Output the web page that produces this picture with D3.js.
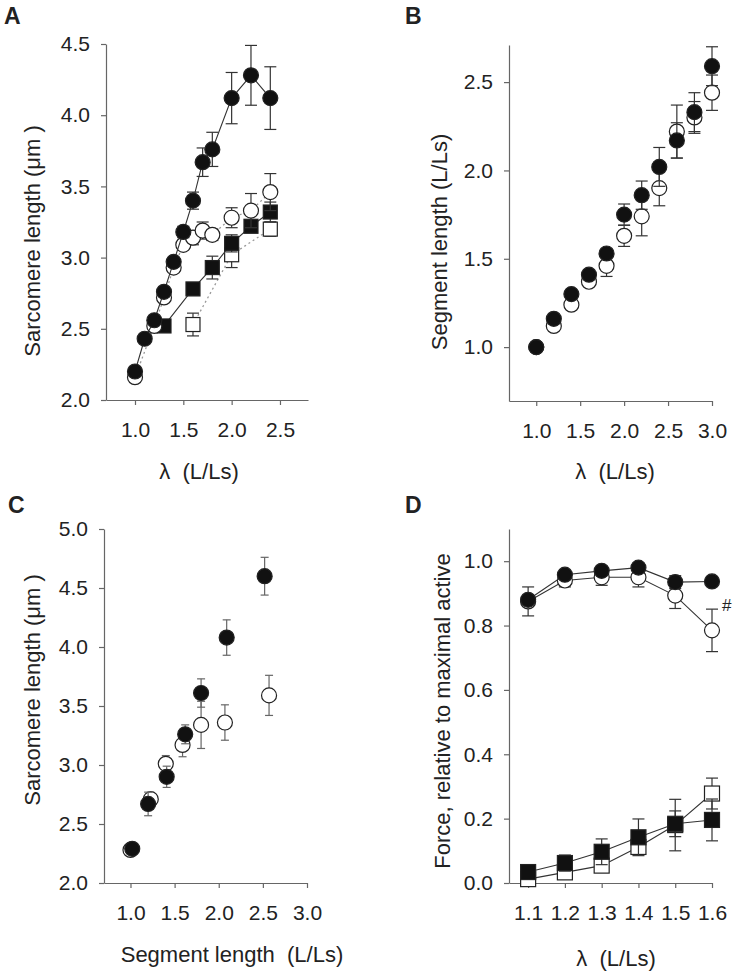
<!DOCTYPE html>
<html>
<head>
<meta charset="utf-8">
<script src="https://cdn.jsdelivr.net/npm/d3@7"></script>
<style>
  body { margin: 0; background: #fff; }
  text { font-family: "Liberation Sans", Arial, sans-serif; fill: #222; }
</style>
</head>
<body>
<div id="chart"></div>
<script>
// ---- Panel A: sarcomere length vs stretch ratio
var aFilledCircX = [1.0, 1.1, 1.2, 1.3, 1.4, 1.5, 1.6, 1.7, 1.8, 2.0, 2.2, 2.4];
var aFilledCircY = [2.20, 2.43, 2.56, 2.76, 2.97, 3.18, 3.40, 3.67, 3.76, 4.12, 4.28, 4.12];
var aFilledCircErr = [0.02, 0.02, 0.02, 0.03, 0.03, 0.04, 0.06, 0.10, 0.12, 0.18, 0.21, 0.22];
var aOpenCircX = [1.0, 1.2, 1.3, 1.4, 1.5, 1.6, 1.7, 1.8, 2.0, 2.2, 2.4];
var aOpenCircY = [2.16, 2.52, 2.72, 2.93, 3.09, 3.14, 3.19, 3.16, 3.28, 3.33, 3.46];
var aOpenCircErr = [0.02, 0.02, 0.03, 0.03, 0.03, 0.05, 0.06, 0.04, 0.07, 0.12, 0.13];
var aFilledSqX = [1.3, 1.6, 1.8, 2.0, 2.2, 2.4];
var aFilledSqY = [2.52, 2.78, 2.93, 3.10, 3.22, 3.32];
var aFilledSqErr = [0.02, 0.03, 0.08, 0.06, 0.03, 0.07];
var aOpenSqX = [1.6, 2.0, 2.4];
var aOpenSqY = [2.53, 3.02, 3.20];
var aOpenSqErr = [0.08, 0.09, 0.05];

// ---- Panel B: segment length vs stretch ratio
var bX = [1.0, 1.2, 1.4, 1.6, 1.8, 2.0, 2.2, 2.4, 2.6, 2.8, 3.0];
var bFilledY = [1.00, 1.16, 1.30, 1.41, 1.53, 1.75, 1.86, 2.02, 2.17, 2.33, 2.59];
var bFilledErr = [0, 0.01, 0.01, 0.02, 0.02, 0.06, 0.08, 0.11, 0.10, 0.11, 0.11];
var bOpenY = [1.00, 1.12, 1.24, 1.37, 1.46, 1.63, 1.74, 1.90, 2.22, 2.30, 2.44];
var bOpenErr = [0, 0.01, 0.02, 0.02, 0.06, 0.06, 0.11, 0.10, 0.15, 0.09, 0.10];

// ---- Panel C: sarcomere length vs segment length
var cFilledX = [1.02, 1.2, 1.41, 1.62, 1.8, 2.09, 2.52];
var cFilledY = [2.29, 2.67, 2.90, 3.26, 3.61, 4.08, 4.60];
var cFilledErr = [0.02, 0.10, 0.09, 0.08, 0.12, 0.15, 0.16];
var cOpenX = [1.0, 1.23, 1.40, 1.59, 1.80, 2.07, 2.57];
var cOpenY = [2.28, 2.71, 3.01, 3.17, 3.34, 3.36, 3.59];
var cOpenErr = [0.02, 0.05, 0.07, 0.10, 0.20, 0.15, 0.17];

// ---- Panel D: relative force vs stretch ratio
var dX = [1.1, 1.2, 1.3, 1.4, 1.5, 1.6];
var dFilledCircY = [0.88, 0.958, 0.97, 0.98, 0.935, 0.937];
var dFilledCircErr = [0.01, 0.01, 0.01, 0.01, 0.02, 0.01];
var dOpenCircY = [0.875, 0.94, 0.95, 0.95, 0.893, 0.785];
var dOpenCircErr = [0.045, 0.02, 0.025, 0.03, 0.04, 0.066];
var dFilledSqY = [0.034, 0.062, 0.097, 0.142, 0.184, 0.196];
var dFilledSqErr = [0.01, 0.025, 0.04, 0.057, 0.04, 0.065];
var dOpenSqY = [0.012, 0.033, 0.054, 0.112, 0.18, 0.278];
var dOpenSqErr = [0.005, 0.01, 0.02, 0.015, 0.08, 0.048];

var svg = d3.select("#chart")
    .append("svg")
        .attr("width", 739)
        .attr("height", 973);

var fmt = d3.format(".1f");

// Build one panel: axes, titles, letter
function makePanel(p) {
    var x = d3.scaleLinear().domain(p.xDomain).range([p.left, p.right]);
    var y = d3.scaleLinear().domain(p.yDomain).range([p.bottom, p.top]);
    var g = svg.append("g");

    var xAxis = g.append("g")
        .attr("transform", "translate(0," + p.bottom + ")")
        .call(d3.axisBottom(x).tickValues(p.xTicks).tickFormat(fmt)
            .tickSize(5).tickSizeOuter(0).tickPadding(17));
    var yAxis = g.append("g")
        .attr("transform", "translate(" + p.left + ",0)")
        .call(d3.axisLeft(y).tickValues(p.yTicks).tickFormat(fmt)
            .tickSize(5).tickSizeOuter(0).tickPadding(11));
    [xAxis, yAxis].forEach(function(a) {
        a.select(".domain").attr("stroke", "#666").attr("stroke-width", 1.2);
        a.selectAll(".tick line").attr("stroke", "#666").attr("stroke-width", 1.2);
        a.selectAll(".tick text").attr("font-size", "21px").attr("fill", "#222")
            .attr("font-family", "Liberation Sans, Arial, sans-serif");
    });

    g.append("text")
        .attr("x", p.xTitlePos[0])
        .attr("y", p.xTitlePos[1])
        .attr("text-anchor", "middle")
        .attr("font-size", "22px")
        .style("white-space", "pre")
        .text(p.xTitle);

    g.append("text")
        .attr("transform", "translate(" + p.yTitlePos[0] + "," + p.yTitlePos[1] + ") rotate(-90)")
        .attr("text-anchor", "middle")
        .attr("font-size", "22px")
        .style("white-space", "pre")
        .text(p.yTitle);

    g.append("text")
        .attr("x", p.letterPos[0])
        .attr("y", p.letterPos[1])
        .attr("font-size", "23px")
        .attr("font-weight", "bold")
        .attr("fill", "#111")
        .text(p.letter);

    return {g: g, x: x, y: y};
}

// Draw one series: connecting line, error bars, markers
function drawSeries(panel, xs, ys, errs, o) {
    var pts = xs.map(function(d, i) { return {x: d, y: ys[i], e: errs[i]}; });
    var g = panel.g.append("g");
    var x = panel.x, y = panel.y;

    if (o.line) {
        var line = d3.line().x(function(d) { return x(d.x); }).y(function(d) { return y(d.y); });
        g.append("path")
            .datum(pts)
            .attr("d", line)
            .attr("fill", "none")
            .attr("stroke", o.line == "dotted" ? "#999" : "#333")
            .attr("stroke-width", o.line == "dotted" ? 1.3 : 1.1)
            .attr("stroke-dasharray", o.line == "dotted" ? "2,3" : null);
    }

    var bars = g.selectAll(".err")
        .data(pts.filter(function(d) { return d.e > 0; }))
        .enter()
        .append("g")
        .attr("stroke", o.barColor || "#333")
        .attr("stroke-width", 1.2);
    bars.append("line")
        .attr("x1", function(d) { return x(d.x); })
        .attr("x2", function(d) { return x(d.x); })
        .attr("y1", function(d) { return y(d.y - d.e); })
        .attr("y2", function(d) { return y(d.y + d.e); });
    [-1, 1].forEach(function(s) {
        bars.append("line")
            .attr("x1", function(d) { return x(d.x) - o.cap; })
            .attr("x2", function(d) { return x(d.x) + o.cap; })
            .attr("y1", function(d) { return y(d.y + s * d.e); })
            .attr("y2", function(d) { return y(d.y + s * d.e); });
    });

    var fill = o.filled ? "#111" : "#fff";
    if (o.shape == "circle") {
        g.selectAll("circle")
            .data(pts)
            .enter()
            .append("circle")
                .attr("cx", function(d) { return x(d.x); })
                .attr("cy", function(d) { return y(d.y); })
                .attr("r", o.size)
                .attr("fill", fill)
                .attr("stroke", "#222")
                .attr("stroke-width", 1.2);
    } else {
        g.selectAll("rect")
            .data(pts)
            .enter()
            .append("rect")
                .attr("x", function(d) { return x(d.x) - o.size; })
                .attr("y", function(d) { return y(d.y) - o.size; })
                .attr("width", o.size * 2)
                .attr("height", o.size * 2)
                .attr("fill", fill)
                .attr("stroke", "#222")
                .attr("stroke-width", 1.2);
    }
}

// Panel A
var pA = makePanel({
    left: 106, right: 308, top: 44, bottom: 400,
    xDomain: [0.7, 2.79], yDomain: [2.0, 4.5],
    xTicks: [1.0, 1.5, 2.0, 2.5], yTicks: [2.0, 2.5, 3.0, 3.5, 4.0, 4.5],
    xTitle: "λ  (L/Ls)", xTitlePos: [199, 479],
    yTitle: "Sarcomere length (μm )", yTitlePos: [40, 241],
    letter: "A", letterPos: [4, 24]
});
drawSeries(pA, aOpenSqX, aOpenSqY, aOpenSqErr, {shape: "square", filled: false, line: "dotted", size: 7, cap: 6});
drawSeries(pA, aFilledSqX, aFilledSqY, aFilledSqErr, {shape: "square", filled: true, line: "solid", size: 7, cap: 6});
drawSeries(pA, aOpenCircX, aOpenCircY, aOpenCircErr, {shape: "circle", filled: false, line: "dotted", size: 7.5, cap: 6});
drawSeries(pA, aFilledCircX, aFilledCircY, aFilledCircErr, {shape: "circle", filled: true, line: "solid", size: 7.5, cap: 6});

// Panel B
var pB = makePanel({
    left: 509, right: 712, top: 45, bottom: 401,
    xDomain: [0.69, 3.0], yDomain: [0.695, 2.71],
    xTicks: [1.0, 1.5, 2.0, 2.5, 3.0], yTicks: [1.0, 1.5, 2.0, 2.5],
    xTitle: "λ  (L/Ls)", xTitlePos: [615, 479],
    yTitle: "Segment length (L/Ls)", yTitlePos: [447, 242],
    letter: "B", letterPos: [405, 24]
});
drawSeries(pB, bX, bOpenY, bOpenErr, {shape: "circle", filled: false, line: null, size: 7.5, cap: 6});
drawSeries(pB, bX, bFilledY, bFilledErr, {shape: "circle", filled: true, line: null, size: 7.5, cap: 6});

// Panel C
var pC = makePanel({
    left: 104, right: 307, top: 529, bottom: 883,
    xDomain: [0.7, 3.0], yDomain: [2.0, 5.0],
    xTicks: [1.0, 1.5, 2.0, 2.5, 3.0], yTicks: [2.0, 2.5, 3.0, 3.5, 4.0, 4.5, 5.0],
    xTitle: "Segment length  (L/Ls)", xTitlePos: [232, 962],
    yTitle: "Sarcomere length (μm )", yTitlePos: [40, 690],
    letter: "C", letterPos: [8, 513]
});
drawSeries(pC, cOpenX, cOpenY, cOpenErr, {shape: "circle", filled: false, line: null, size: 7.5, cap: 4, barColor: "#666"});
drawSeries(pC, cFilledX, cFilledY, cFilledErr, {shape: "circle", filled: true, line: null, size: 7.5, cap: 4, barColor: "#666"});

// Panel D
var pD = makePanel({
    left: 509, right: 712, top: 529, bottom: 883,
    xDomain: [1.048, 1.6], yDomain: [0, 1.1],
    xTicks: [1.1, 1.2, 1.3, 1.4, 1.5, 1.6], yTicks: [0.0, 0.2, 0.4, 0.6, 0.8, 1.0],
    xTitle: "λ  (L/Ls)", xTitlePos: [616, 966],
    yTitle: "Force, relative to maximal active", yTitlePos: [450, 711],
    letter: "D", letterPos: [405, 513]
});
drawSeries(pD, dX, dOpenSqY, dOpenSqErr, {shape: "square", filled: false, line: "solid", size: 7.5, cap: 6});
drawSeries(pD, dX, dFilledSqY, dFilledSqErr, {shape: "square", filled: true, line: "solid", size: 7.5, cap: 6});
drawSeries(pD, dX, dOpenCircY, dOpenCircErr, {shape: "circle", filled: false, line: "solid", size: 7.5, cap: 6});
drawSeries(pD, dX, dFilledCircY, dFilledCircErr, {shape: "circle", filled: true, line: "solid", size: 7.5, cap: 6});

// significance mark
pD.g.append("text")
    .attr("x", pD.x(1.6) + 10)
    .attr("y", pD.y(0.785) - 19)
    .attr("font-size", "17px")
    .text("#");
</script>
</body>
</html>
